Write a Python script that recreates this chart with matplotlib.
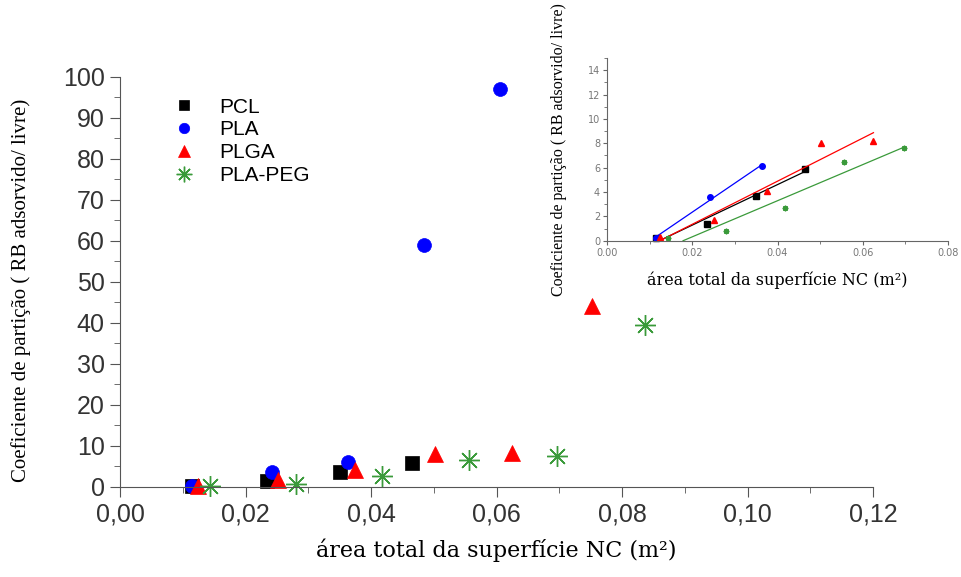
import numpy as np
import matplotlib.pyplot as plt
from matplotlib.ticker import MultipleLocator, FuncFormatter

# dados
pcl_x = [0.0115, 0.0235, 0.035, 0.0465]
pcl_y = [0.2, 1.4, 3.7, 5.9]
pla_x = [0.0115, 0.0242, 0.0363, 0.0485, 0.0605]
pla_y = [0.2, 3.6, 6.1, 59.0, 97.0]
plga_x = [0.0125, 0.0252, 0.0375, 0.0502, 0.0625, 0.0752]
plga_y = [0.3, 1.7, 4.1, 8.0, 8.2, 44.0]
peg_x = [0.0143, 0.028, 0.0417, 0.0556, 0.0697, 0.0836]
peg_y = [0.2, 0.8, 2.7, 6.5, 7.6, 39.5]

# pontos usados no grafico menor (regime linear)
n_lin = {'PCL': 4, 'PLA': 3, 'PLGA': 5, 'PLA-PEG': 5}

series = [
    ('PCL', pcl_x, pcl_y, 's', 'black', 10),
    ('PLA', pla_x, pla_y, 'o', 'blue', 10),
    ('PLGA', plga_x, plga_y, '^', 'red', 12),
    ('PLA-PEG', peg_x, peg_y, (8, 2, 0), '#3a9a3a', 15),
]

fig = plt.figure(figsize=(9.62, 5.77), dpi=100)
ax = fig.add_axes([0.1247, 0.156, 0.783, 0.711])

for name, x, y, m, c, ms in series:
    ax.plot(x, y, linestyle='none', marker=m, color=c, markersize=ms,
            markeredgewidth=1 if m == (8, 2, 0) else 0.5, label=name, clip_on=False)

ax.set_xlim(0, 0.12)
ax.set_ylim(0, 100)
ax.xaxis.set_major_locator(MultipleLocator(0.02))
ax.xaxis.set_minor_locator(MultipleLocator(0.01))
ax.yaxis.set_major_locator(MultipleLocator(10))
ax.yaxis.set_minor_locator(MultipleLocator(5))
ax.xaxis.set_major_formatter(FuncFormatter(lambda v, p: ('%.2f' % v).replace('.', ',')))
ax.spines['top'].set_visible(False)
ax.spines['right'].set_visible(False)
ax.spines['left'].set_color('#555555')
ax.spines['bottom'].set_color('#555555')
ax.tick_params(which='major', length=7, color='#555555', labelsize=18, pad=4)
ax.tick_params(which='minor', length=4, color='#555555')
for lab in ax.get_xticklabels() + ax.get_yticklabels():
    lab.set_family('Liberation Sans')
    lab.set_color('#333333')

ax.set_xlabel('área total da superfície NC (m²)', family='DejaVu Serif', fontsize=16, labelpad=9)
ax.set_ylabel('Coeficiente de partição ( RB adsorvido/ livre)', family='Liberation Serif',
              fontsize=15)
ax.yaxis.set_label_coords(-0.118, 0.48)

leg = ax.legend(loc='upper left', bbox_to_anchor=(0.04, 0.995), frameon=False,
                prop={'family': 'Liberation Sans', 'size': 15}, handletextpad=0.9,
                labelspacing=0.18, handlelength=1.5, markerscale=0.75)

# grafico menor
ins = fig.add_axes([0.631, 0.5828, 0.3545, 0.3167])
for name, x, y, m, c, ms in series:
    k = n_lin[name]
    xs = np.array(x[:k])
    ys = np.array(y[:k])
    ins.plot(xs, ys, linestyle='none', marker=m, color=c, markersize=4, clip_on=False)
    a, b = np.polyfit(xs, ys, 1)
    x0 = max(xs.min(), -b / a)
    xx = np.array([x0, xs.max()])
    ins.plot(xx, a * xx + b, color=c, linewidth=0.9)

ins.set_xlim(0, 0.08)
ins.set_ylim(0, 15)
ins.xaxis.set_major_locator(MultipleLocator(0.02))
ins.xaxis.set_minor_locator(MultipleLocator(0.01))
ins.yaxis.set_minor_locator(MultipleLocator(1))
ins.set_yticks(np.arange(0, 15, 2))
ins.spines['top'].set_visible(False)
ins.spines['right'].set_visible(False)
ins.spines['left'].set_color('#666666')
ins.spines['bottom'].set_color('#666666')
ins.tick_params(which='major', length=3, color='#666666', labelsize=7, labelcolor='#777777', pad=2)
ins.tick_params(which='minor', length=2, color='#666666')
ins.patch.set_alpha(0)
ins.set_xlabel('área total da superfície NC (m²)', family='DejaVu Serif', fontsize=11.5, labelpad=10)
ins.set_ylabel('Coeficiente de partição ( RB adsorvido/ livre)', family='Liberation Serif',
               fontsize=11.5)
ins.yaxis.set_label_coords(-0.117, 0.5)

plt.savefig('out.png', dpi=100)
